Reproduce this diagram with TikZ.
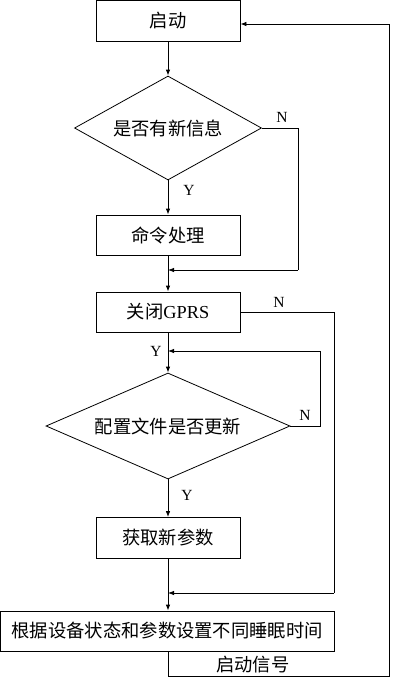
\documentclass[tikz,border=0pt]{standalone}
\usepackage{fontspec}
\setmainfont{Liberation Serif}
\newfontfamily\cjk{Noto Sans CJK SC}
\usetikzlibrary{shapes.geometric,arrows.meta}
\begin{document}
\begin{tikzpicture}[x=1pt,y=-1pt,
  box/.style={draw,line width=0.8pt,rectangle,inner sep=0pt,font=\fontsize{18.3}{21}\selectfont},
  dec/.style={draw,line width=0.8pt,diamond,inner sep=0pt,aspect=1.8,font=\fontsize{18.3}{21}\selectfont},
  lbl/.style={font=\fontsize{15.5}{18}\selectfont,inner sep=0pt},
  ln/.style={line width=0.8pt},
  arr/.style={line width=0.8pt,-{Latex[length=6pt,width=4.5pt]}}]
\useasboundingbox (0,0) rectangle (400,678);
\node[box,minimum width=144pt,minimum height=40.5pt] (start) at (168,20.75) {\cjk 启动};
\node[dec,minimum width=187pt,minimum height=104pt] (d1) at (168,128) {\cjk 是否有新信息};
\node[box,minimum width=144pt,minimum height=40pt] (cmd) at (168,235) {\cjk 命令处理};
\node[box,minimum width=144pt,minimum height=40pt] (gprs) at (168,312) {{\cjk 关闭}GPRS};
\node[dec,minimum width=244pt,minimum height=106pt] (d2) at (168,426) {\cjk 配置文件是否更新};
\node[box,minimum width=144pt,minimum height=41pt] (param) at (168,538) {\cjk 获取新参数};
\node[box,minimum width=333.5pt,minimum height=40pt] (big) at (167.25,631) {\cjk 根据设备状态和参数设置不同睡眠时间};
\coordinate (m1) at (168,270);
\coordinate (m2) at (168,351);
\coordinate (m3) at (168,593);
\coordinate (c1) at (298,128);
\coordinate (c2) at (320,426);
\coordinate (c3) at (334,312);
\coordinate (b1) at (168,676);
\coordinate (b2) at (389,676);
\coordinate (b3) at (389,24);
\node[lbl] (n1) at (282,117) {N};
\node[lbl] (y1) at (189,190) {Y};
\node[lbl] (n2) at (279,302) {N};
\node[lbl] (y2) at (156,351) {Y};
\node[lbl] (n3) at (305,415) {N};
\node[lbl] (y3) at (187,495) {Y};
\node[font=\fontsize{18.3}{21}\selectfont,inner sep=0pt,anchor=west] (sig) at (216,665) {\cjk 启动信号};
\draw[arr] (start) -- (d1);
\draw[arr] (d1) -- (cmd);
\draw[arr] (cmd) -- (gprs);
\draw[ln] (d1.east) -- (c1) -- (c1 |- m1);
\draw[arr] (c1 |- m1) -- (m1);
\draw[arr] (gprs) -- (d2);
\draw[ln] (d2.east) -- (c2) -- (c2 |- m2);
\draw[arr] (c2 |- m2) -- (m2);
\draw[arr] (d2) -- (param);
\draw[ln] (gprs.east |- c3) -- (c3) -- (c3 |- m3);
\draw[arr] (c3 |- m3) -- (m3);
\draw[arr] (param.south) -- (param.south |- big.north);
\draw[ln] (start.south |- big.south) -- (b1) -- (b2) -- (b3);
\draw[arr] (b3) -- (start.east |- b3);
\end{tikzpicture}
\end{document}
